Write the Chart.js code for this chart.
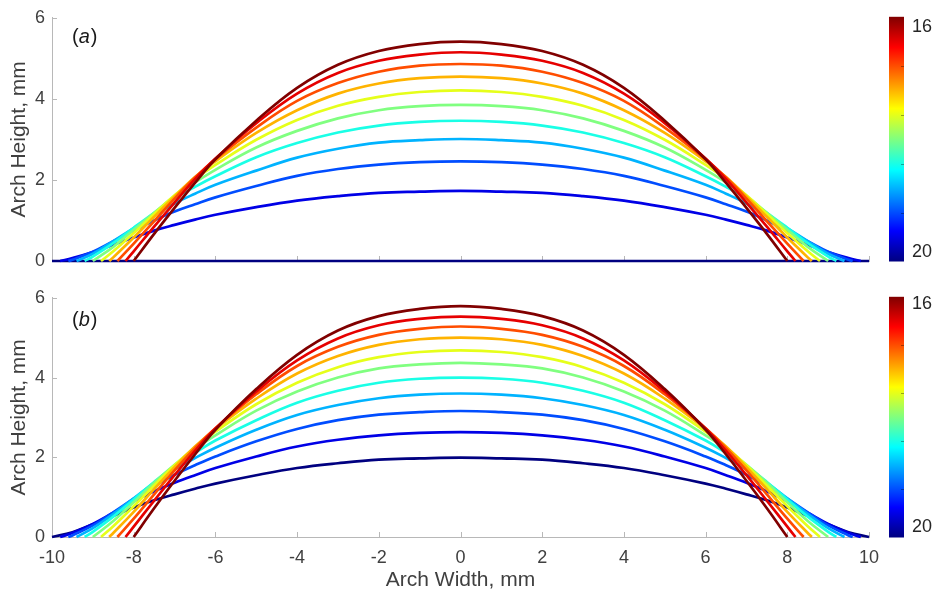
<!DOCTYPE html>
<html>
<head>
<meta charset="utf-8">
<script src="https://cdn.jsdelivr.net/npm/chart.js@4.4.1/dist/chart.umd.min.js"></script>
<style>
  html, body { margin: 0; padding: 0; background: #fff; }
  #wrap { position: relative; width: 935px; height: 597px; }
  canvas { position: absolute; left: 0; }
  #chartA { top: 0; }
  #chartB { top: 280px; }
</style>
</head>
<body>
<div id="wrap">
  <canvas id="chartA" width="935" height="280"></canvas>
  <canvas id="chartB" width="935" height="317"></canvas>
</div>
<script>
// arch profiles, x in mm
const gridX = [-9.5, -9, -8.5, -8, -7.5, -7, -6.5, -6, -5, -4, -3, -2, -1, 0, 1, 2, 3, 4, 5, 6, 6.5, 7, 7.5, 8, 8.5, 9, 9.5];
const levels = [16, 16.4, 16.8, 17.2, 17.6, 18, 18.4, 18.8, 19.2, 19.6, 20];
const cbTicks = [16, 20];

// half-span of each arch (where it meets y = 0)
const feetA = [8.0, 8.2, 8.4, 8.6, 8.8, 9.0, 9.2, 9.4, 9.6, 9.8, 10.0];
const feetB = [8.0, 8.2, 8.4, 8.6, 8.8, 9.0, 9.2, 9.4, 9.6, 9.8, 10.0];

// panel (a) heights on gridX (null = outside the arch)
const heightsA = [
  [null,null,null,null,0.67,1.31,1.93,2.51,3.46,4.27,4.84,5.18,5.35,5.41,5.35,5.18,4.84,4.27,3.46,2.51,1.93,1.31,0.67,null,null,null,null],
  [null,null,null,0.24,0.85,1.44,2.02,2.53,3.40,4.13,4.64,4.94,5.09,5.15,5.09,4.94,4.64,4.13,3.40,2.53,2.02,1.44,0.85,0.24,null,null,null],
  [null,null,null,0.43,0.98,1.54,2.06,2.51,3.29,3.95,4.39,4.67,4.82,4.86,4.82,4.67,4.39,3.95,3.29,2.51,2.06,1.54,0.98,0.43,null,null,null],
  [null,null,0.09,0.58,1.09,1.59,2.07,2.46,3.16,3.72,4.13,4.38,4.51,4.55,4.51,4.38,4.13,3.72,3.16,2.46,2.07,1.59,1.09,0.58,0.09,null,null],
  [null,null,0.24,0.69,1.16,1.62,2.02,2.37,2.99,3.48,3.83,4.05,4.17,4.21,4.17,4.05,3.83,3.48,2.99,2.37,2.02,1.62,1.16,0.69,0.24,null,null],
  [null,null,0.35,0.77,1.19,1.60,1.94,2.25,2.80,3.21,3.52,3.72,3.82,3.85,3.82,3.72,3.52,3.21,2.80,2.25,1.94,1.60,1.19,0.77,0.35,null,null],
  [null,0.11,0.44,0.82,1.19,1.54,1.83,2.09,2.56,2.91,3.17,3.34,3.43,3.46,3.43,3.34,3.17,2.91,2.56,2.09,1.83,1.54,1.19,0.82,0.44,0.11,null],
  [null,0.18,0.49,0.81,1.13,1.42,1.66,1.88,2.23,2.55,2.77,2.92,2.98,3.01,2.98,2.92,2.77,2.55,2.23,1.88,1.66,1.42,1.13,0.81,0.49,0.18,null],
  [0.03,0.23,0.49,0.75,1.00,1.22,1.40,1.57,1.85,2.10,2.27,2.38,2.44,2.46,2.44,2.38,2.27,2.10,1.85,1.57,1.40,1.22,1.00,0.75,0.49,0.23,0.03],
  [0.07,0.22,0.40,0.58,0.75,0.89,1.02,1.14,1.33,1.49,1.60,1.68,1.71,1.73,1.71,1.68,1.60,1.49,1.33,1.14,1.02,0.89,0.75,0.58,0.40,0.22,0.07],
  [0,0,0,0,0,0,0,0,0,0,0,0,0,0,0,0,0,0,0,0,0,0,0,0,0,0,0]
];

// panel (b) heights on gridX
const heightsB = [
  [null,null,null,null,0.72,1.41,2.07,2.69,3.71,4.57,5.18,5.54,5.72,5.79,5.72,5.54,5.18,4.57,3.71,2.69,2.07,1.41,0.72,null,null,null,null],
  [null,null,null,0.26,0.91,1.55,2.16,2.72,3.65,4.43,4.98,5.31,5.47,5.53,5.47,5.31,4.98,4.43,3.65,2.72,2.16,1.55,0.91,0.26,null,null,null],
  [null,null,null,0.46,1.07,1.67,2.23,2.73,3.58,4.29,4.77,5.07,5.22,5.28,5.22,5.07,4.77,4.29,3.58,2.73,2.23,1.67,1.07,0.46,null,null,null],
  [null,null,0.10,0.63,1.20,1.75,2.27,2.71,3.47,4.10,4.54,4.82,4.96,5.00,4.96,4.82,4.54,4.10,3.47,2.71,2.27,1.75,1.20,0.63,0.10,null,null],
  [null,null,0.27,0.77,1.29,1.80,2.25,2.64,3.33,3.87,4.26,4.51,4.64,4.68,4.64,4.51,4.26,3.87,3.33,2.64,2.25,1.80,1.29,0.77,0.27,null,null],
  [null,null,0.40,0.87,1.36,1.81,2.21,2.55,3.17,3.65,4.00,4.23,4.33,4.37,4.33,4.23,4.00,3.65,3.17,2.55,2.21,1.81,1.36,0.87,0.40,null,null],
  [null,0.13,0.51,0.94,1.38,1.78,2.11,2.42,2.93,3.37,3.67,3.87,3.97,4.00,3.97,3.87,3.67,3.37,2.93,2.42,2.11,1.78,1.38,0.94,0.51,0.13,null],
  [null,0.22,0.58,0.97,1.36,1.70,1.98,2.24,2.69,3.06,3.31,3.48,3.57,3.60,3.57,3.48,3.31,3.06,2.69,2.24,1.98,1.70,1.36,0.97,0.58,0.22,null],
  [0.04,0.29,0.62,0.96,1.28,1.56,1.80,2.02,2.40,2.71,2.93,3.07,3.13,3.16,3.13,3.07,2.93,2.71,2.40,2.02,1.80,1.56,1.28,0.96,0.62,0.29,0.04],
  [0.10,0.33,0.61,0.89,1.15,1.36,1.55,1.73,2.02,2.27,2.44,2.55,2.61,2.63,2.61,2.55,2.44,2.27,2.02,1.73,1.55,1.36,1.15,0.89,0.61,0.33,0.10],
  [0.12,0.32,0.53,0.74,0.92,1.07,1.21,1.34,1.55,1.73,1.85,1.94,1.97,1.99,1.97,1.94,1.85,1.73,1.55,1.34,1.21,1.07,0.92,0.74,0.53,0.32,0.12]
];

// jet colours, 16 (dark red) -> 20 (navy)
const jetColors = ['#800000', '#e60000', '#ff4d00', '#ffb300', '#e6ff1a', '#80ff80',
                   '#1affe6', '#00b3ff', '#004dff', '#0000e6', '#000080'];

const axisGray = '#b8b8b8';
const textGray = '#404040';
const fontFamily = '"Liberation Sans", Arial, Helvetica, sans-serif';

Chart.defaults.font.family = fontFamily;
Chart.defaults.color = textGray;

function toPoints(foot, ys) {
  const pts = [{ x: -foot, y: 0 }];
  gridX.forEach((x, i) => { if (ys[i] !== null) pts.push({ x, y: ys[i] }); });
  pts.push({ x: foot, y: 0 });
  return pts;
}

// inward tick marks, panel tag, colour bar
const decorPlugin = {
  id: 'decor',
  beforeDatasetsDraw(chart) {
    const { ctx, scales: { x, y } } = chart;
    ctx.save();
    ctx.strokeStyle = axisGray;
    ctx.lineWidth = 1;
    ctx.beginPath();
    x.ticks.forEach(t => {
      const px = Math.round(x.getPixelForValue(t.value)) + 0.5;
      ctx.moveTo(px, y.bottom);
      ctx.lineTo(px, y.bottom - 5);
    });
    y.ticks.forEach(t => {
      const py = Math.round(y.getPixelForValue(t.value)) + 0.5;
      ctx.moveTo(x.left, py);
      ctx.lineTo(x.left + 5, py);
    });
    ctx.stroke();
    ctx.restore();
  },
  afterDraw(chart, args, opts) {
    const { ctx, chartArea: a } = chart;
    ctx.save();

    // (a) / (b)
    let tx = a.left + 20;
    const ty = a.top + opts.tagDy;
    ctx.fillStyle = '#1a1a1a';
    ctx.textBaseline = 'middle';
    ctx.textAlign = 'left';
    ctx.font = '20px ' + fontFamily;
    ctx.fillText('(', tx, ty);
    tx += ctx.measureText('(').width;
    ctx.font = 'italic 20px ' + fontFamily;
    ctx.fillText(opts.tag, tx, ty);
    tx += ctx.measureText(opts.tag).width + 1;
    ctx.font = '20px ' + fontFamily;
    ctx.fillText(')', tx, ty);

    // colour bar
    const cbX = 889, cbW = 15;
    const top = a.top - 1, bottom = a.bottom + 0.5;
    const g = ctx.createLinearGradient(0, top, 0, bottom);
    const stops = [0, 0.125, 0.375, 0.625, 0.875, 1];
    const stopCols = ['#800000', '#ff0000', '#ffff00', '#00ffff', '#0000ff', '#000080'];
    stops.forEach((s, i) => g.addColorStop(s, stopCols[i]));
    ctx.fillStyle = g;
    ctx.fillRect(cbX, top, cbW, bottom - top);
    ctx.strokeStyle = 'rgba(0,0,0,0.35)';
    ctx.lineWidth = 1;
    ctx.beginPath();
    for (let i = 1; i < 5; i++) {
      const py = Math.round(top + (bottom - top) * i / 5) + 0.5;
      ctx.moveTo(cbX + cbW, py);
      ctx.lineTo(cbX + cbW - 3, py);
    }
    ctx.stroke();

    ctx.fillStyle = '#262626';
    ctx.font = '18px ' + fontFamily;
    ctx.fillText(String(cbTicks[0]), cbX + cbW + 8, top + opts.cbTopDy);
    ctx.fillText(String(cbTicks[1]), cbX + cbW + 8, bottom - opts.cbBottomDy);
    ctx.restore();
  }
};

function makePanel(id, feet, heights, cfg) {
  const datasets = heights.map((ys, k) => ({
    label: String(levels[k]),
    data: toPoints(feet[k], ys),
    borderColor: jetColors[k],
    borderWidth: 2.7,
    pointRadius: 0,
    tension: 0.4,
    clip: false
  }));

  return new Chart(document.getElementById(id), {
    type: 'line',
    data: { datasets },
    plugins: [decorPlugin],
    options: {
      responsive: false,
      animation: false,
      events: [],
      layout: { padding: cfg.padding },
      plugins: {
        legend: { display: false },
        tooltip: { enabled: false },
        decor: { tag: cfg.tag, tagDy: cfg.tagDy, cbTopDy: cfg.cbTopDy, cbBottomDy: cfg.cbBottomDy }
      },
      scales: {
        x: {
          type: 'linear',
          min: -10, max: 10,
          grid: { display: false, drawTicks: false },
          border: { display: true, color: axisGray, width: 1 },
          ticks: { display: cfg.showX, stepSize: 2, padding: 10, font: { size: 18 }, color: textGray },
          title: { display: cfg.showX, text: 'Arch Width, mm', font: { size: 21 }, color: textGray, padding: { top: 0, bottom: 4 } },
          afterFit: s => { s.height = cfg.xHeight; }
        },
        y: {
          min: 0, max: 6,
          grid: { display: false, drawTicks: false },
          border: { display: true, color: axisGray, width: 1 },
          ticks: { stepSize: 2, padding: 7, font: { size: 18 }, color: textGray },
          title: { display: true, text: 'Arch Height, mm', font: { size: 21 }, color: textGray, padding: { top: 7, bottom: 0 } },
          afterFit: s => { s.width = 52; }
        }
      }
    }
  });
}

makePanel('chartA', feetA, heightsA, {
  tag: 'a', tagDy: 20, cbTopDy: 10, cbBottomDy: 9,
  showX: false, xHeight: 0,
  padding: { left: 0, right: 66, top: 15, bottom: 19 }
});

makePanel('chartB', feetB, heightsB, {
  tag: 'b', tagDy: 23, cbTopDy: 7, cbBottomDy: 10,
  showX: true, xHeight: 60,
  padding: { left: 0, right: 66, top: 13, bottom: 0 }
});
</script>
</body>
</html>
